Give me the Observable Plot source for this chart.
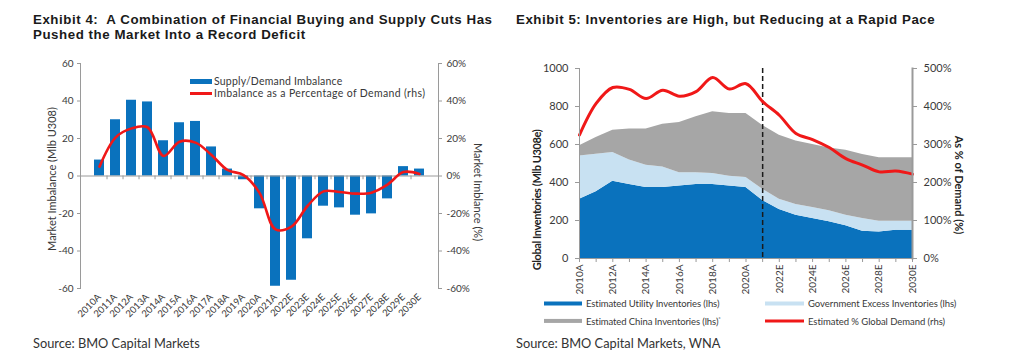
<!DOCTYPE html>
<html><head><meta charset="utf-8">
<script src="https://cdn.jsdelivr.net/npm/d3@7"></script>
<script src="https://cdn.jsdelivr.net/npm/@observablehq/plot@0.6"></script>
<style>
body{margin:0;background:#fff;}
#root{position:relative;width:1024px;height:362px;overflow:hidden;font-family:Lato,"Open Sans",sans-serif;color:#383838;background:#fff;}
.abs{position:absolute;white-space:nowrap;}
.title{font-family:"Liberation Sans",Arial,sans-serif;font-weight:bold;font-size:13.3px;line-height:14.9px;height:14.9px;color:#1a1a1a;letter-spacing:0.55px;}
.src{font-size:12.8px;line-height:14px;color:#333;}
.rot{transform:translate(-50%,-50%) rotate(-90deg);line-height:12px;}
.rotc{transform:translate(-50%,-50%) rotate(90deg);line-height:12px;}
.leg{display:flex;align-items:center;transform:translateY(-50%);}
.sw{display:inline-block;}
svg{position:absolute;top:0;overflow:visible;}
</style></head>
<body><div id="root"></div>
<script>
// ---------- Exhibit 4 data ----------
const imbCategories = ["2010A","2011A","2012A","2013A","2014A","2015A","2016A","2017A","2018A","2019A","2020A","2021A","2022E","2023E","2024E","2025E","2026E","2027E","2028E","2029E","2030E"];
const imbalanceMlb = [8.5,30,40.4,39.5,18.8,28.4,29.1,15.5,3.7,-2,-17.5,-58.8,-55.6,-33.5,-16.1,-17,-20.9,-20.2,-12.2,5,3.7];
const imbalancePct = [5,20.5,25.4,26,10.7,18.3,17.8,11.2,3.2,0.5,-9,-28.5,-27,-16,-8.2,-8.5,-9.4,-8.9,-4.6,2.1,1.1];
const imbYTicks = [-60,-40,-20,0,20,40,60];
const imbYTickLabels = ["-60","-40","-20","0","20","40","60"];
const imbPctTickLabels = ["-60%","-40%","-20%","0%","20%","40%","60%"];

// ---------- Exhibit 5 data ----------
const invYears = [2010,2011,2012,2013,2014,2015,2016,2017,2018,2019,2020,2021,2022,2023,2024,2025,2026,2027,2028,2029,2030];
const invLabelYears = [2010,2012,2014,2016,2018,2020,2022,2024,2026,2028,2030];
const invYearLabels = ["2010A","2012A","2014A","2016A","2018A","2020A","2022E","2024E","2026E","2028E","2030E"];
const utilityInv = [312,351,407,389,374,374,382,389,389,382,374,305,258,228,211,193,172,144,140,149,149];
const govExcessInv = [227,198,151,129,117,108,69,62,58,51,52,60,54,56,57,58,56,67,56,47,47];
const chinaInv = [54,88,117,163,190,225,265,295,325,330,337,335,337,334,332,331,342,336,334,334,334];
const pctGlobalDemand = [325,408,450,445,421,443,427,439,476,446,460,413,377,329,313,292,263,246,228,230,222];
const invYTicks = [0,200,400,600,800,1000];
const invYTickLabels = ["0","200","400","600","800","1000"];
const invPctTickLabels = ["0%","100%","200%","300%","400%","500%"];
const forecastStart = [2021];
const invSeries = ["Estimated Utility Inventories (lhs)","Government Excess Inventories (lhs)","Estimated China Inventories (lhs)"];

const BLUE = "#0a72bd", LIGHT = "#c8e1f2", GRAY = "#a6a6a6", RED = "#f01818", AX = "#9a9a9a", TXT = "#3a3a3a";
const root = document.getElementById("root");

function addDiv(cls, x, y, html, style) {
  const d = document.createElement("div");
  d.className = "abs " + cls;
  d.style.left = x + "px"; d.style.top = y + "px";
  if (style) Object.assign(d.style, style);
  d.innerHTML = html;
  root.appendChild(d);
  return d;
}
function legend(x, y, w, h, color, text, fs, gap, ls) {
  addDiv("leg", x, y, `<span class="sw" style="width:${w}px;height:${h}px;background:${color};margin-right:${gap}px"></span><span>${text}</span>`, {fontSize: fs + "px", letterSpacing: ls + "px"});
}

// ---------- Exhibit 4 chart ----------
const W1 = 512, H1 = 320, ML1 = 80, MR1 = 74, MT1 = 63, MB1 = 32, PI = 0.35, PO = 0.235;
const step1 = (W1 - ML1 - MR1) / (imbCategories.length - PI + 2 * PO);
const c1 = Plot.plot({
  width: W1, height: H1, marginLeft: ML1, marginRight: MR1, marginTop: MT1, marginBottom: MB1,
  style: {fontFamily: "Lato, sans-serif", fontSize: "10px", color: TXT, background: "transparent"},
  x: {domain: imbCategories, paddingInner: PI, paddingOuter: PO, label: null},
  y: {domain: [-60, 60], label: null},
  marks: [
    Plot.barY(imbCategories, {x: d => d, y: (d, i) => imbalanceMlb[i], fill: BLUE}),
    Plot.ruleY([0], {stroke: AX}),
    Plot.ruleX(imbCategories.slice(1), {x: d => d, y1: 0, y2: -2, stroke: AX, dx: -step1 / 2}),
    Plot.line(imbCategories, {x: d => d, y: (d, i) => imbalancePct[i], curve: "catmull-rom", stroke: RED, strokeWidth: 2.6}),
    Plot.frame({anchor: "left", stroke: AX}),
    Plot.frame({anchor: "right", stroke: AX}),
    Plot.axisY({anchor: "left", ticks: imbYTicks, tickFormat: d => imbYTickLabels[imbYTicks.indexOf(d)], tickSize: 3, tickPadding: 4, stroke: AX, fill: TXT, label: null}),
    Plot.axisY({anchor: "right", ticks: imbYTicks, tickFormat: d => imbPctTickLabels[imbYTicks.indexOf(d)], tickSize: 3, tickPadding: 5, stroke: AX, fill: TXT, label: null}),
    Plot.axisX({tickSize: 0, tickRotate: -45, tickPadding: 7, fontSize: 9.5, fill: TXT, label: null})
  ]
});
c1.style.left = "0px";
root.appendChild(c1);

// ---------- Exhibit 5 chart ----------
const invData = invYears.flatMap((yr, i) => [
  {year: yr, series: invSeries[0], value: utilityInv[i]},
  {year: yr, series: invSeries[1], value: govExcessInv[i]},
  {year: yr, series: invSeries[2], value: chinaInv[i]}
]);
const pctToLhs = 1000 / 500;
const c2 = Plot.plot({
  width: 512, height: 320, marginLeft: 67, marginRight: 112, marginTop: 68, marginBottom: 62,
  style: {fontFamily: "Lato, sans-serif", fontSize: "11px", color: TXT, background: "transparent"},
  x: {type: "linear", domain: [2010, 2030], label: null},
  y: {domain: [0, 1000], label: null},
  color: {domain: invSeries, range: [BLUE, LIGHT, GRAY]},
  marks: [
    Plot.areaY(invData, {x: "year", y: "value", fill: "series", z: "series"}),
    Plot.ruleX(forecastStart, {stroke: "#1a1a1a", strokeWidth: 1.5, strokeDasharray: "5,3"}),
    Plot.line(invYears, {x: d => d, y: (d, i) => pctGlobalDemand[i] * pctToLhs, curve: "catmull-rom", stroke: RED, strokeWidth: 3}),
    Plot.frame({anchor: "left", stroke: AX}),
    Plot.frame({anchor: "right", stroke: AX, strokeWidth: 2}),
    Plot.frame({anchor: "bottom", stroke: AX}),
    Plot.axisY({anchor: "left", ticks: invYTicks, tickFormat: d => invYTickLabels[invYTicks.indexOf(d)], tickSize: 4, tickPadding: 7, stroke: AX, fill: TXT, label: null}),
    Plot.axisY({anchor: "right", ticks: invYTicks, tickFormat: d => invPctTickLabels[invYTicks.indexOf(d)], tickSize: 4, tickPadding: 7, stroke: AX, fill: TXT, label: null}),
    Plot.axisX({ticks: invYears, tickFormat: () => "", tickSize: 4, stroke: AX, label: null}),
    Plot.axisX({ticks: invLabelYears, tickFormat: d => invYearLabels[invLabelYears.indexOf(d)], tickSize: 0, tickPadding: 6, tickRotate: -90, fontSize: 10, fill: TXT, label: null})
  ]
});
c2.style.left = "512px";
root.appendChild(c2);

// ---------- Titles, axis titles, legends, sources ----------
addDiv("title", 33, 13.3, "Exhibit 4:&nbsp; A Combination of Financial Buying and Supply Cuts Has");
addDiv("title", 33, 28.2, "Pushed the Market Into a Record Deficit");
addDiv("title", 516, 13.3, "Exhibit 5: Inventories are High, but Reducing at a Rapid Pace");

addDiv("rot", 52, 179, "Market Imbalance (Mlb U308)", {fontSize: "11px"});
addDiv("rotc", 478, 192, "Market Imblance (%)", {fontSize: "11px"});
addDiv("rot", 537, 200, "Global Inventories (Mlb U308e)", {fontSize: "11px", fontWeight: "bold", letterSpacing: "-0.4px", color: "#222"});
addDiv("rotc", 959, 185, "As % of Demand (%)", {fontSize: "11px", fontWeight: "bold", color: "#222"});

legend(190, 81, 22, 5, BLUE, "Supply/Demand Imbalance", 10.5, 2, 0.2);
legend(190, 93, 22, 3, RED, "Imbalance as a Percentage of Demand (rhs)", 10.5, 2, 0.35);

legend(544, 303, 38, 4, BLUE, "Estimated Utility Inventories (lhs)", 9.5, 4, -0.1);
legend(765, 303, 39, 4, LIGHT, "Government Excess Inventories (lhs)", 9.5, 4, -0.05);
legend(544, 321, 38, 4, GRAY, "Estimated China Inventories (lhs)<sup style='font-size:6px'>*</sup>", 9.5, 4, -0.1);
legend(765, 321, 39, 3, RED, "Estimated % Global Demand (rhs)", 9.5, 4, -0.05);

addDiv("src", 33, 336, "Source: BMO Capital Markets");
addDiv("src", 516, 336, "Source: BMO Capital Markets, WNA");
</script>
</body></html>
